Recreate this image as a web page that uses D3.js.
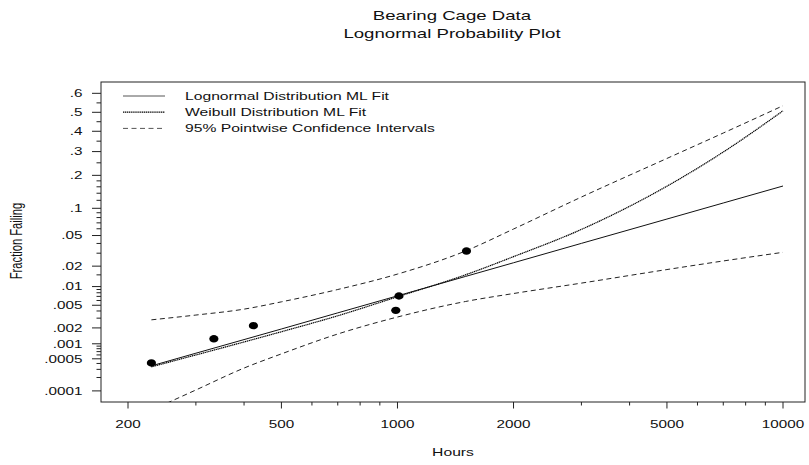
<!DOCTYPE html>
<html>
<head>
<meta charset="utf-8">
<script src="https://cdn.jsdelivr.net/npm/d3@7"></script>
<style>
  body { margin: 0; background: #fff; }
  svg text { font-family: "Liberation Sans", Arial, sans-serif; fill: #111; }
</style>
</head>
<body>
<div id="chart-container"></div>
<script>
// data
var hourTicks = [200, 500, 1000, 2000, 5000, 10000];
var hourMinor = [300, 400, 600, 700, 800, 900, 3000, 4000, 6000, 7000, 8000, 9000];
var probTicks = [0.0001, 0.0005, 0.001, 0.002, 0.005, 0.01, 0.02, 0.05, 0.1, 0.2, 0.3, 0.4, 0.5, 0.6];
var probLabels = [".0001", ".0005", ".001", ".002", ".005", ".01", ".02", ".05", ".1", ".2", ".3", ".4", ".5", ".6"];
var probMinor = [0.0002, 0.0003, 0.0004, 0.0006, 0.0007, 0.0008, 0.0009, 0.003, 0.004, 0.006, 0.007, 0.008, 0.009,
                 0.015, 0.03, 0.04, 0.06, 0.07, 0.08, 0.09, 0.12, 0.14, 0.16, 0.18, 0.25, 0.35, 0.45, 0.55];

var failHours = [230, 334, 423, 990, 1009, 1510];
var failFrac = [0.00041, 0.00125, 0.0022, 0.0041, 0.0071, 0.032];

var fitHours = [230, 300, 500, 700, 1000, 1500, 2000, 3000, 5000, 7000, 10000];
var lognormalFit = [0.000356, 0.00065, 0.00191, 0.00371, 0.00714, 0.0142, 0.0223, 0.0401, 0.0771, 0.113, 0.1626];
var weibullFit = [0.00034, 0.0006, 0.0017, 0.0033, 0.0069, 0.015, 0.027, 0.059, 0.162, 0.298, 0.508];

var ciHours = [230, 300, 400, 500, 700, 1000, 1500, 2000, 3000, 5000, 7000, 10000];
var ciUpper = [0.0028, 0.0034, 0.0043, 0.0057, 0.0090, 0.0154, 0.032, 0.0596, 0.129, 0.269, 0.391, 0.535];
var ciLower = [0.000035, 0.000105, 0.00032, 0.00063, 0.00154, 0.00314, 0.00577, 0.00778, 0.0113, 0.0179, 0.0236, 0.0308];

var legendLabels = ["Lognormal Distribution ML Fit", "Weibull Distribution ML Fit", "95% Pointwise Confidence Intervals"];

// inverse standard normal cdf (Acklam)
function qnorm(p) {
    var a = [-39.69683028665376, 220.9460984245205, -275.9285104469687, 138.3577518672690, -30.66479806614716, 2.506628277459239];
    var b = [-54.47609879822406, 161.5858368580409, -155.6989798598866, 66.80131188771972, -13.28068155288572];
    var c = [-0.007784894002430293, -0.3223964580411365, -2.400758277161838, -2.549732539343734, 4.374664141464968, 2.938163982698783];
    var d = [0.007784695709041462, 0.3224671290700398, 2.445134137142996, 3.754408661907416];
    var q, r;
    if (p < 0.02425) {
        q = Math.sqrt(-2 * Math.log(p));
        return (((((c[0]*q+c[1])*q+c[2])*q+c[3])*q+c[4])*q+c[5]) / ((((d[0]*q+d[1])*q+d[2])*q+d[3])*q+1);
    } else if (p > 1 - 0.02425) {
        q = Math.sqrt(-2 * Math.log(1 - p));
        return -(((((c[0]*q+c[1])*q+c[2])*q+c[3])*q+c[4])*q+c[5]) / ((((d[0]*q+d[1])*q+d[2])*q+d[3])*q+1);
    }
    q = p - 0.5; r = q * q;
    return (((((a[0]*r+a[1])*r+a[2])*r+a[3])*r+a[4])*r+a[5])*q / (((((b[0]*r+b[1])*r+b[2])*r+b[3])*r+b[4])*r+1);
}

var SX = 1.4; // the original print is stretched sideways
var frame = { left: 101, top: 82, right: 805, bottom: 402 };

var x = d3.scaleLog().domain([200, 10000]).range([128, 783]);
var yz = d3.scaleLinear().domain([qnorm(0.0001), qnorm(0.5)]).range([390.9, 112.3]);
function y(p) { return yz(qnorm(p)); }

var svg = d3.select('#chart-container')
    .append('svg')
    .attr('width', 809)
    .attr('height', 465);

function label(g, px, py, str, size, anchor) {
    return g.append('text')
        .attr('transform', 'translate(' + px + ',' + py + ') scale(' + SX + ',1)')
        .attr('text-anchor', anchor || 'middle')
        .style('font-size', size + 'px')
        .text(str);
}

// titles
label(svg, 452, 20, "Bearing Cage Data", 13.3);
label(svg, 452, 37.5, "Lognormal Probability Plot", 13.3);

svg.append('defs').append('clipPath').attr('id', 'plotclip')
    .append('rect')
    .attr('x', frame.left).attr('y', frame.top)
    .attr('width', frame.right - frame.left).attr('height', frame.bottom - frame.top);

svg.append('rect')
    .attr('x', frame.left).attr('y', frame.top)
    .attr('width', frame.right - frame.left).attr('height', frame.bottom - frame.top)
    .attr('fill', 'none').attr('stroke', '#222').attr('stroke-width', 1);

// x axis
var xAxis = svg.append('g');
xAxis.selectAll('.xmaj').data(hourTicks).enter().append('line')
    .attr('x1', function(d) { return x(d); }).attr('x2', function(d) { return x(d); })
    .attr('y1', frame.bottom).attr('y2', frame.bottom + 6.5)
    .attr('stroke', '#222');
xAxis.selectAll('.xmin').data(hourMinor).enter().append('line')
    .attr('x1', function(d) { return x(d); }).attr('x2', function(d) { return x(d); })
    .attr('y1', frame.bottom).attr('y2', frame.bottom + 3.5)
    .attr('stroke', '#222');
hourTicks.forEach(function(d) { label(xAxis, x(d), 427.5, String(d), 10.9); });
label(svg, 453, 456, "Hours", 11.2);

// y axis
var yAxis = svg.append('g');
yAxis.selectAll('.ymaj').data(probTicks).enter().append('line')
    .attr('x1', frame.left - 9).attr('x2', frame.left)
    .attr('y1', function(d) { return y(d); }).attr('y2', function(d) { return y(d); })
    .attr('stroke', '#222');
yAxis.selectAll('.ymin').data(probMinor).enter().append('line')
    .attr('x1', frame.left - 4.5).attr('x2', frame.left)
    .attr('y1', function(d) { return y(d); }).attr('y2', function(d) { return y(d); })
    .attr('stroke', '#222');
probTicks.forEach(function(d, i) { label(yAxis, 82.5, y(d) + 3.9, probLabels[i], 10.9, 'end'); });
svg.append('text')
    .attr('transform', 'translate(22,241) scale(' + SX + ',1) rotate(-90)')
    .attr('text-anchor', 'middle')
    .style('font-size', '11.2px')
    .text("Fraction Failing");

// curves
var plot = svg.append('g').attr('clip-path', 'url(#plotclip)');
function curve(hours, fracs, kind) {
    return d3.line()
        .x(function(d) { return x(d[0]); })
        .y(function(d) { return y(d[1]); })
        .curve(kind)(d3.zip(hours, fracs));
}
plot.append('path').attr('d', curve(ciHours, ciUpper, d3.curveMonotoneX))
    .attr('fill', 'none').attr('stroke', '#222').attr('stroke-dasharray', '5,3.5');
plot.append('path').attr('d', curve(ciHours, ciLower, d3.curveMonotoneX))
    .attr('fill', 'none').attr('stroke', '#222').attr('stroke-dasharray', '5,3.5');
plot.append('path').attr('d', curve(fitHours, weibullFit, d3.curveMonotoneX))
    .attr('fill', 'none').attr('stroke', '#000').attr('stroke-width', 1.2).attr('stroke-dasharray', '1.3,0.6');
plot.append('path').attr('d', curve(fitHours, lognormalFit, d3.curveLinear))
    .attr('fill', 'none').attr('stroke', '#111');

plot.selectAll('.dot').data(d3.zip(failHours, failFrac)).enter().append('ellipse')
    .attr('class', 'dot')
    .attr('cx', function(d) { return x(d[0]); })
    .attr('cy', function(d) { return y(d[1]); })
    .attr('rx', 4.6).attr('ry', 3.7)
    .attr('fill', '#000');

// legend
var dashes = [null, '1.3,0.6', '5,3.5'];
var legend = svg.append('g');
legendLabels.forEach(function(t, i) {
    var ly = 96 + i * 16.2;
    legend.append('line')
        .attr('x1', 123).attr('x2', 165).attr('y1', ly).attr('y2', ly)
        .attr('stroke', i === 1 ? '#000' : '#555')
        .attr('stroke-width', i === 1 ? 1.2 : 1)
        .attr('stroke-dasharray', dashes[i]);
    label(legend, 185, ly + 4, t, 11.2, 'start');
});
</script>
</body>
</html>
